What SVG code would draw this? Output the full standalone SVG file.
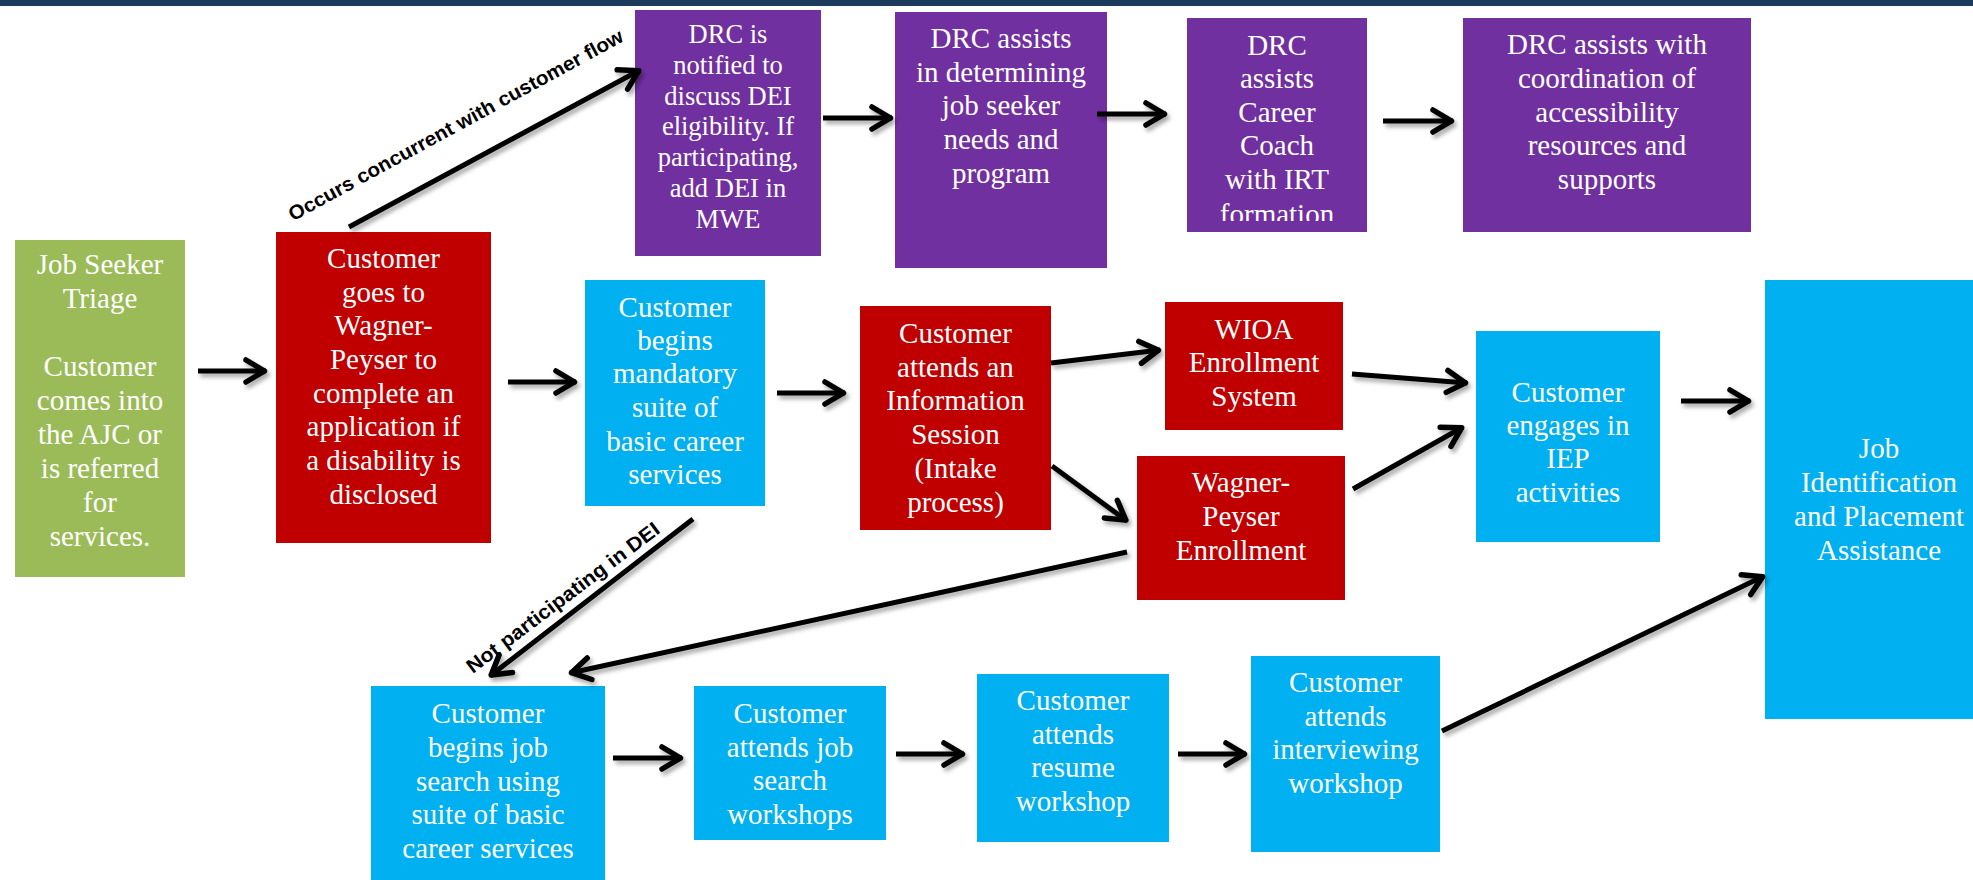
<svg xmlns="http://www.w3.org/2000/svg" width="1973" height="880" viewBox="0 0 1973 880">
<defs>
<style>
.t{font-family:"Liberation Serif","Times New Roman",serif;font-size:29px;fill:#fff;text-anchor:middle}
.sm{font-size:26.5px}
.green{fill:#9bbb59}
.red{fill:#c00000}
.purple{fill:#7030a0}
.blue{fill:#00b0f0}
.c{fill:none;stroke:#000;stroke-width:5;marker-end:url(#ah)}
.lbl{font-family:"Liberation Sans",Arial,sans-serif;font-weight:bold;font-size:20px;fill:#000;text-anchor:middle}
</style>
<marker id="ah" markerUnits="userSpaceOnUse" viewBox="-26 -16 30 32" markerWidth="30" markerHeight="32" refX="0" refY="0" orient="auto" overflow="visible">
<path d="M-20,-11 L-1.5,0 L-20,11" fill="none" stroke="#000" stroke-width="5.5" stroke-linecap="round" stroke-linejoin="round"/>
</marker>
<filter id="sh" x="-10%" y="-10%" width="120%" height="130%">
<feDropShadow dx="2.5" dy="3.5" stdDeviation="2" flood-color="#000" flood-opacity="0.35"/>
</filter>
<clipPath id="clip3"><rect x="1187" y="18" width="180" height="203"/></clipPath>
</defs>
<rect x="0" y="0" width="1973" height="880" fill="#fff"/>
<rect x="0" y="0" width="1973" height="6" fill="#1b3a5c"/>

<g id="triage">
<rect class="green" x="15" y="240" width="170" height="337"/>
<text class="t"><tspan x="100" y="274">Job Seeker</tspan><tspan x="100" y="308">Triage</tspan><tspan x="100" y="376">Customer</tspan><tspan x="100" y="410">comes into</tspan><tspan x="100" y="444">the AJC or</tspan><tspan x="100" y="478">is referred</tspan><tspan x="100" y="512">for</tspan><tspan x="100" y="546">services.</tspan></text>
</g>

<g id="wagner-app">
<rect class="red" x="276" y="232" width="215" height="311"/>
<text class="t"><tspan x="383.5" y="268">Customer</tspan><tspan x="383.5" y="302">goes to</tspan><tspan x="383.5" y="335">Wagner-</tspan><tspan x="383.5" y="369">Peyser to</tspan><tspan x="383.5" y="403">complete an</tspan><tspan x="383.5" y="436">application if</tspan><tspan x="383.5" y="470">a disability is</tspan><tspan x="383.5" y="504">disclosed</tspan></text>
</g>

<g id="drc-notified">
<rect class="purple" x="635" y="10" width="186" height="246"/>
<text class="t sm"><tspan x="728" y="43">DRC is</tspan><tspan x="728" y="74">notified to</tspan><tspan x="728" y="105">discuss DEI</tspan><tspan x="728" y="135">eligibility. If</tspan><tspan x="728" y="166">participating,</tspan><tspan x="728" y="197">add DEI in</tspan><tspan x="728" y="228">MWE</tspan></text>
</g>

<g id="drc-needs">
<rect class="purple" x="895" y="12" width="212" height="256"/>
<text class="t"><tspan x="1001" y="48">DRC assists</tspan><tspan x="1001" y="82">in determining</tspan><tspan x="1001" y="115">job seeker</tspan><tspan x="1001" y="149">needs and</tspan><tspan x="1001" y="183">program</tspan></text>
</g>

<g id="drc-irt">
<rect class="purple" x="1187" y="18" width="180" height="214"/>
<text class="t" clip-path="url(#clip3)"><tspan x="1277" y="55">DRC</tspan><tspan x="1277" y="88">assists</tspan><tspan x="1277" y="122">Career</tspan><tspan x="1277" y="155">Coach</tspan><tspan x="1277" y="189">with IRT</tspan><tspan x="1277" y="224">formation</tspan></text>
</g>

<g id="drc-access">
<rect class="purple" x="1463" y="18" width="288" height="214"/>
<text class="t"><tspan x="1607" y="54">DRC assists with</tspan><tspan x="1607" y="88">coordination of</tspan><tspan x="1607" y="122">accessibility</tspan><tspan x="1607" y="155">resources and</tspan><tspan x="1607" y="189">supports</tspan></text>
</g>

<g id="mandatory">
<rect class="blue" x="585" y="280" width="180" height="226"/>
<text class="t"><tspan x="675" y="317">Customer</tspan><tspan x="675" y="350">begins</tspan><tspan x="675" y="383">mandatory</tspan><tspan x="675" y="417">suite of</tspan><tspan x="675" y="451">basic career</tspan><tspan x="675" y="484">services</tspan></text>
</g>

<g id="info-session">
<rect class="red" x="860" y="306" width="191" height="224"/>
<text class="t"><tspan x="955.5" y="343">Customer</tspan><tspan x="955.5" y="377">attends an</tspan><tspan x="955.5" y="410">Information</tspan><tspan x="955.5" y="444">Session</tspan><tspan x="955.5" y="478">(Intake</tspan><tspan x="955.5" y="512">process)</tspan></text>
</g>

<g id="wioa">
<rect class="red" x="1165" y="302" width="178" height="128"/>
<text class="t"><tspan x="1254" y="339">WIOA</tspan><tspan x="1254" y="372">Enrollment</tspan><tspan x="1254" y="406">System</tspan></text>
</g>

<g id="wp-enroll">
<rect class="red" x="1137" y="456" width="208" height="144"/>
<text class="t"><tspan x="1241" y="492">Wagner-</tspan><tspan x="1241" y="526">Peyser</tspan><tspan x="1241" y="560">Enrollment</tspan></text>
</g>

<g id="iep">
<rect class="blue" x="1476" y="331" width="184" height="211"/>
<text class="t"><tspan x="1568" y="402">Customer</tspan><tspan x="1568" y="435">engages in</tspan><tspan x="1568" y="468">IEP</tspan><tspan x="1568" y="502">activities</tspan></text>
</g>

<g id="job-id">
<rect class="blue" x="1765" y="280" width="230" height="439"/>
<text class="t"><tspan x="1879" y="458">Job</tspan><tspan x="1879" y="492">Identification</tspan><tspan x="1879" y="526">and Placement</tspan><tspan x="1879" y="560">Assistance</tspan></text>
</g>

<g id="job-search">
<rect class="blue" x="371" y="686" width="234" height="200"/>
<text class="t"><tspan x="488" y="723">Customer</tspan><tspan x="488" y="757">begins job</tspan><tspan x="488" y="791">search using</tspan><tspan x="488" y="824">suite of basic</tspan><tspan x="488" y="858">career services</tspan></text>
</g>

<g id="workshops">
<rect class="blue" x="694" y="686" width="192" height="154"/>
<text class="t"><tspan x="790" y="723">Customer</tspan><tspan x="790" y="757">attends job</tspan><tspan x="790" y="790">search</tspan><tspan x="790" y="824">workshops</tspan></text>
</g>

<g id="resume">
<rect class="blue" x="977" y="674" width="192" height="168"/>
<text class="t"><tspan x="1073" y="710">Customer</tspan><tspan x="1073" y="744">attends</tspan><tspan x="1073" y="777">resume</tspan><tspan x="1073" y="811">workshop</tspan></text>
</g>

<g id="interviewing">
<rect class="blue" x="1251" y="656" width="189" height="196"/>
<text class="t"><tspan x="1345.5" y="692">Customer</tspan><tspan x="1345.5" y="726">attends</tspan><tspan x="1345.5" y="759">interviewing</tspan><tspan x="1345.5" y="793">workshop</tspan></text>
</g>

<g id="connectors" filter="url(#sh)">
<path class="c" d="M198,371 L266,371"/>
<path class="c" d="M508,382 L576,382"/>
<path class="c" d="M777,393 L845,393"/>
<path class="c" d="M1051,363 L1160,350"/>
<path class="c" d="M1052,466 L1127,521"/>
<path class="c" d="M1352,374 L1467,383"/>
<path class="c" d="M1353,489 L1463,427"/>
<path class="c" d="M1681,401 L1750,401"/>
<path class="c" d="M1442,731 L1764,576"/>
<path class="c" d="M693,519 L490,676"/>
<path class="c" d="M1127,552 L570,673"/>
<path class="c" d="M613,758 L682,758"/>
<path class="c" d="M896,754 L964,754"/>
<path class="c" d="M1178,754 L1246,754"/>
<path class="c" d="M823,118 L892,118"/>
<path class="c" d="M1097,114 L1166,114"/>
<path class="c" d="M1383,121 L1453,121"/>
<path class="c" d="M349,227 L640,70"/>
</g>

<g id="labels">
<text class="lbl" transform="translate(459,131) rotate(-28.6)" textLength="378" lengthAdjust="spacingAndGlyphs">Occurs concurrent with customer flow</text>
<text class="lbl" transform="translate(567,603) rotate(-37)" textLength="236" lengthAdjust="spacingAndGlyphs">Not participating in DEI</text>
</g>
</svg>
